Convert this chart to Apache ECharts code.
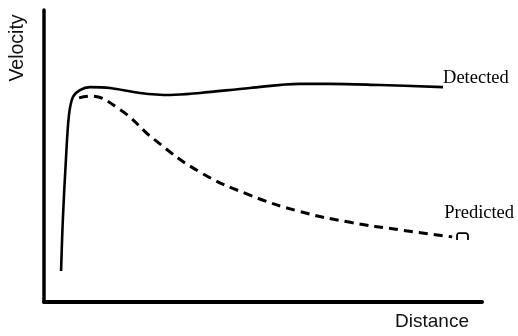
<!DOCTYPE html>
<html>
<head>
<meta charset="utf-8">
<script src="https://cdn.jsdelivr.net/npm/echarts@6/dist/echarts.min.js"></script>
<style>html,body{margin:0;padding:0;background:#fff}#c{width:518px;height:336px}</style>
</head>
<body>
<div id="c"></div>
<script>
// Distance (x) and Velocity (y) in arbitrary units 0-100
const detectedX = [3.9, 4.3, 5.0, 5.7, 6.6, 8.2, 10.5, 15.1, 21.9, 28.8, 35.6, 47.0, 58.4, 65.3, 76.7, 91.1];
const detectedY = [10.6, 28.1, 48.6, 64.0, 70.2, 72.6, 73.6, 73.3, 71.6, 70.9, 71.6, 73.3, 74.7, 74.7, 74.3, 73.6];
const predictedX = [8.0, 10.5, 17.4, 25.3, 35.6, 47.0, 58.4, 69.9, 81.3, 93.2];
const predictedY = [69.9, 70.5, 65.8, 55.5, 44.5, 36.6, 31.0, 27.3, 24.7, 22.3];
const hatX = [94.3, 94.3, 94.7, 96.3, 96.8, 96.8];
const hatY = [21.2, 22.9, 23.6, 23.6, 22.9, 21.2];
const seriesNames = ['Detected', 'Predicted'];
const axisNames = ['Distance', 'Velocity'];

const zip = (xs, ys) => xs.map((x, i) => [x, ys[i]]);
const chart = echarts.init(document.getElementById('c'));
chart.setOption({
  animation: false,
  backgroundColor: '#fff',
  grid: {left: 44, right: 36, top: 10, bottom: 34},
  xAxis: {type: 'value', min: 0, max: 100, axisLabel: {show: false}, axisTick: {show: false}, splitLine: {show: false},
    axisLine: {lineStyle: {color: '#000', width: 4}}},
  yAxis: {type: 'value', min: 0, max: 100, axisLabel: {show: false}, axisTick: {show: false}, splitLine: {show: false},
    axisLine: {lineStyle: {color: '#000', width: 3.5}}},
  graphic: [
    {type: 'text', x: 432, y: 322, style: {text: axisNames[0], font: '19px "Liberation Sans", Arial, sans-serif', fill: '#111', align: 'center', verticalAlign: 'middle'}},
    {type: 'text', x: 18, y: 48, rotation: Math.PI / 2, style: {text: axisNames[1], font: '19.5px "Liberation Sans", Arial, sans-serif', fill: '#111', align: 'center', verticalAlign: 'middle'}}
  ],
  series: [
    {name: seriesNames[0], type: 'line', data: zip(detectedX, detectedY), smooth: 0.35, symbol: 'none',
      lineStyle: {color: '#000', width: 2.6},
      endLabel: {show: true, formatter: '{a}', distance: 0, offset: [0, -9], color: '#000', fontFamily: '"Liberation Serif", "Times New Roman", serif', fontSize: 18.5}},
    {name: seriesNames[1], type: 'line', data: zip(predictedX, predictedY), smooth: 0.45, symbol: 'none',
      lineStyle: {color: '#000', width: 3, type: [9, 6]},
      endLabel: {show: true, formatter: '{a}', distance: 0, offset: [-8, -24], color: '#000', fontFamily: '"Liberation Serif", "Times New Roman", serif', fontSize: 18.5}},
    {name: 'hat', type: 'line', data: zip(hatX, hatY), smooth: 0.3, symbol: 'none', silent: true,
      lineStyle: {color: '#000', width: 1.8}}
  ]
});
</script>
</body>
</html>
